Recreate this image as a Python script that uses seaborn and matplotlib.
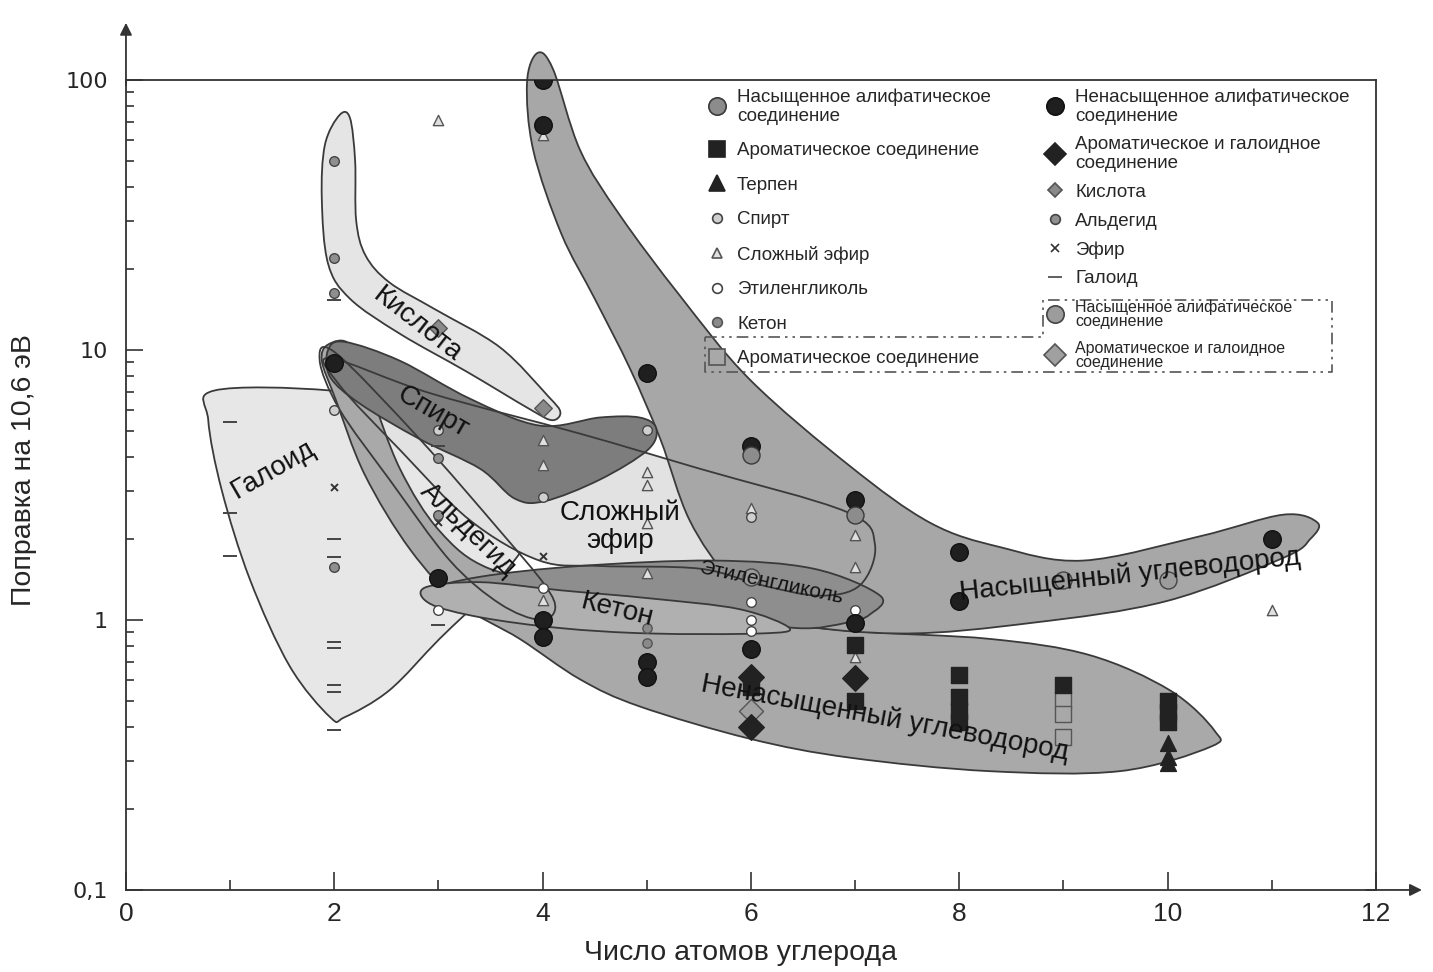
import numpy as np
import matplotlib
matplotlib.use("Agg")
import matplotlib.pyplot as plt
from matplotlib.path import Path
from matplotlib.patches import PathPatch
from matplotlib.lines import Line2D
import seaborn as sns

# ---- point data: carbon number / correction factor ----
sat_x = [6, 7]
sat_y = [4.1, 2.45]
unsat_x = [2, 3, 4, 4, 4, 4, 5, 5, 5, 6, 6, 7, 7, 8, 8, 11]
unsat_y = [8.95, 1.43, 100, 68, 1.0, 0.865, 8.2, 0.70, 0.615, 4.4, 0.78, 2.78, 0.975, 1.79, 1.18, 2.0]
arom_x = [6, 7, 7, 8, 8, 8, 8, 9, 10, 10, 10]
arom_y = [0.565, 0.81, 0.50, 0.626, 0.52, 0.46, 0.42, 0.575, 0.50, 0.456, 0.42]
aromhal_x = [6, 6, 7]
aromhal_y = [0.615, 0.40, 0.61]
terpen_x = [10, 10, 10]
terpen_y = [0.35, 0.31, 0.295]
spirt_x = [2, 3, 4, 5, 6]
spirt_y = [6.0, 5.05, 2.85, 5.05, 2.4]
ester_x = [3, 4, 4, 4, 4, 5, 5, 5, 5, 6, 7, 7, 7, 11]
ester_y = [71, 62.5, 4.64, 3.75, 1.19, 3.53, 3.16, 2.29, 1.49, 2.6, 2.06, 1.57, 0.73, 1.09]
glycol_x = [3, 4, 6, 6, 6, 7]
glycol_y = [1.09, 1.31, 1.17, 1.0, 0.91, 1.09]
keton_x = [5, 5]
keton_y = [0.93, 0.82]
acid_x = [3, 4]
acid_y = [12.1, 6.1]
aldehyde_x = [2, 2, 2, 2, 3, 3]
aldehyde_y = [50, 22, 16.3, 1.57, 3.98, 2.45]
ether_x = [2, 3, 4]
ether_y = [3.1, 2.3, 1.73]
haloid_x = [1, 1, 1, 2, 2, 2, 2, 2, 2, 2, 2, 3, 3]
haloid_y = [5.4, 2.5, 1.72, 15.3, 2.0, 1.71, 0.83, 0.79, 0.575, 0.54, 0.39, 4.4, 0.96]
# second (framed) group
sat2_x = [6, 9, 10]
sat2_y = [1.44, 1.41, 1.41]
arom2_x = [9, 9, 9]
arom2_y = [0.505, 0.45, 0.37]
aromhal2_x = [6]
aromhal2_y = [0.46]

# ---- region outlines: (carbon number, log10 of correction) ----
haloid_zone = [(0.85, 0.85), (1.96, 0.85), (3.01, 0.78), (3.78, 0.67), (4.12, 0.59), (4.12, 0.46),
               (3.88, 0.30), (3.49, 0.11), (3.01, -0.07), (2.53, -0.26), (2.10, -0.36), (1.96, -0.36),
               (1.57, -0.17), (1.19, 0.15), (0.92, 0.48), (0.79, 0.74)]
acid_zone = [(2.05, 1.87), (2.15, 1.86), (2.20, 1.70), (2.21, 1.48), (2.30, 1.35), (2.53, 1.25),
             (2.97, 1.15), (3.59, 1.01), (4.05, 0.83), (4.17, 0.77), (4.09, 0.74), (3.88, 0.78),
             (3.27, 0.92), (2.63, 1.06), (2.15, 1.19), (1.94, 1.32), (1.88, 1.56), (1.91, 1.76)]
ester_zone = [(1.96, 0.97), (2.92, 0.84), (4.36, 0.69), (5.51, 0.56), (6.92, 0.40), (7.19, 0.28),
              (7.05, 0.13), (6.66, 0.09), (6.09, 0.13), (5.51, 0.19), (4.55, 0.20), (3.97, 0.22),
              (3.30, 0.37), (2.63, 0.63), (2.05, 0.87)]
unsat_zone = [(1.94, 1.02), (2.15, 1.02), (2.34, 0.85), (2.63, 0.56), (3.01, 0.33), (3.49, 0.19),
              (4.36, 0.12), (5.51, 0.02), (6.95, -0.04), (8.29, -0.07), (9.25, -0.13), (10.02, -0.26),
              (10.45, -0.41), (10.41, -0.47), (9.54, -0.56), (8.29, -0.56), (6.95, -0.51), (5.99, -0.44),
              (4.93, -0.32), (4.36, -0.22), (3.78, -0.07), (3.21, 0.06), (2.73, 0.26), (2.29, 0.54),
              (2.01, 0.82), (1.88, 0.96)]
sat_zone = [(3.95, 2.10), (4.10, 2.04), (4.36, 1.74), (4.74, 1.50), (5.32, 1.20), (5.99, 0.89),
            (6.95, 0.57), (7.72, 0.36), (8.39, 0.27), (9.19, 0.22), (10.31, 0.31), (11.11, 0.39),
            (11.44, 0.36), (11.37, 0.30), (11.11, 0.23), (9.99, 0.07), (8.71, -0.01), (7.43, -0.05),
            (6.28, 0.0), (5.80, 0.15), (5.41, 0.37), (5.13, 0.67), (4.84, 0.93), (4.50, 1.19),
            (4.18, 1.43), (3.91, 1.74), (3.85, 1.99)]
spirt_zone = [(1.94, 1.0), (2.10, 1.03), (2.63, 0.96), (3.30, 0.82), (3.97, 0.72), (4.55, 0.75),
              (4.93, 0.75), (5.09, 0.71), (5.01, 0.63), (4.55, 0.52), (4.02, 0.44), (3.73, 0.45),
              (3.40, 0.56), (2.82, 0.67), (2.25, 0.80), (1.96, 0.90)]
glycol_zone = [(2.92, 0.11), (3.40, 0.16), (4.36, 0.20), (5.64, 0.22), (6.60, 0.19), (7.24, 0.09),
               (7.14, 0.02), (6.92, -0.01), (6.44, -0.03), (5.51, 0.02), (4.74, 0.07), (3.97, 0.08),
               (3.21, 0.07)]
keton_zone = [(2.87, 0.12), (3.40, 0.14), (4.17, 0.11), (5.03, 0.08), (5.89, 0.04), (6.37, -0.03),
              (6.09, -0.05), (5.03, -0.05), (4.17, -0.03), (3.40, 0.01), (2.92, 0.06)]
aldehyde_zone = [(1.86, 0.96), (2.01, 0.99), (2.82, 0.67), (3.59, 0.33), (4.02, 0.13), (4.12, 0.04),
                 (3.97, 0.0), (3.59, 0.06), (3.11, 0.22), (2.53, 0.52), (2.05, 0.78)]

sns.set_theme(style="white")
plt.rcParams["font.family"] = ["Liberation Sans", "DejaVu Sans"]
NARROW = ["Liberation Sans Narrow", "Liberation Sans"]

fig, ax = plt.subplots(figsize=(14.33, 9.72), dpi=100)
fig.subplots_adjust(left=0.0879, right=0.9602, bottom=0.0844, top=0.9177)
ax.set_yscale("log")
ax.set_xlim(0, 12)
ax.set_ylim(0.1, 100)

EDGE = "#3a3a3a"


def zone(pts, face, z, edge=EDGE, lw=1.3):
    # closed smooth outline (Catmull-Rom as cubic Bezier) in (x, log y) space
    P = np.array(pts, dtype=float)
    n = len(P)
    verts = [P[0]]
    codes = [Path.MOVETO]
    for i in range(n):
        p0, p1, p2, p3 = P[i - 1], P[i], P[(i + 1) % n], P[(i + 2) % n]
        verts += [p1 + (p2 - p0) / 6, p2 - (p3 - p1) / 6, p2]
        codes += [Path.CURVE4] * 3
    verts = np.array(verts)
    verts[:, 1] = 10 ** verts[:, 1]
    ax.add_patch(PathPatch(Path(verts, codes), facecolor=face, edgecolor=edge,
                           lw=lw, zorder=z, clip_on=False))


zone(haloid_zone, "#e7e7e7", 1.0)
zone(acid_zone, "#e5e5e5", 1.1)
zone(ester_zone, "#e2e2e2", 1.2, edge="none")
zone(unsat_zone, "#a9a9a9", 1.5)
zone(sat_zone, "#a7a7a7", 1.6)
zone(spirt_zone, "#7d7d7d", 1.7)
zone(glycol_zone, "#8e8e8e", 1.8)
zone(keton_zone, "#b0b0b0", 1.9)
zone(ester_zone, "none", 2.0)
zone(aldehyde_zone, "none", 2.0)

# ---- markers ----
styles = [
    # x, y, marker, size, face, edge, zorder
    (ester_x, ester_y, "^", 55, "#e0e0e0", "#555555", 3.0),
    (haloid_x, haloid_y, "_", 90, "#444444", "#444444", 3.0),
    (ether_x, ether_y, "x", 25, "#333333", "#333333", 3.0),
    (spirt_x, spirt_y, "o", 48, "#cfcfcf", "#444444", 3.1),
    (glycol_x, glycol_y, "o", 48, "white", "#444444", 3.1),
    (keton_x, keton_y, "o", 45, "#8a8a8a", "#555555", 3.1),
    (aldehyde_x, aldehyde_y, "o", 48, "#8f8f8f", "#444444", 3.1),
    (acid_x, acid_y, "D", 80, "#8a8a8a", "#555555", 3.1),
    (sat2_x, sat2_y, "o", 150, "#9c9c9c", "#444444", 3.2),
    (arom2_x, arom2_y, "s", 130, "#a8a8a8", "#555555", 3.2),
    (aromhal2_x, aromhal2_y, "D", 150, "#a0a0a0", "#555555", 3.3),
    (arom_x, arom_y, "s", 130, "#222222", "#222222", 3.2),
    (terpen_x, terpen_y, "^", 130, "#222222", "#222222", 3.2),
    (aromhal_x, aromhal_y, "D", 170, "#222222", "#222222", 3.4),
    (unsat_x, unsat_y, "o", 160, "#1f1f1f", "#111111", 3.5),
    (sat_x, sat_y, "o", 150, "#8c8c8c", "#3a3a3a", 3.6),
]
for xs, ys, mk, s, fc, ec, z in styles:
    if mk in ("_", "x"):
        sns.scatterplot(x=xs, y=ys, ax=ax, marker=mk, s=s, color=fc, linewidth=1.4, zorder=z, legend=False)
    else:
        sns.scatterplot(x=xs, y=ys, ax=ax, marker=mk, s=s, color=fc, edgecolor=ec,
                        linewidth=1.0, zorder=z, legend=False)

# ---- zone labels ----
lab = dict(fontsize=20, color="#111111", ha="center", va="center", zorder=4)
ax.text(2.80, 12.4, "Кислота", rotation=-38, **lab)
ax.text(2.95, 5.9, "Спирт", rotation=-30, **lab)
ax.text(1.41, 3.6, "Галоид", rotation=30, **lab)
ax.text(3.28, 2.15, "Альдегид", rotation=-44, **lab)
ax.text(4.74, 2.21, "Сложный\nэфир", rotation=0, linespacing=1.1, **lab)
ax.text(4.72, 1.09, "Кетон", rotation=-14, **lab)
ax.text(9.64, 1.47, "Насыщенный углеводород", rotation=6, **lab)
ax.text(7.29, 0.434, "Ненасыщенный углеводород", rotation=-10.6, **lab)
ax.text(6.20, 1.37, "Этиленгликоль", rotation=-12, fontsize=15, color="#111111",
        ha="center", va="center", zorder=4)

# ---- axes styling ----
for side in ["left", "bottom", "top", "right"]:
    ax.spines[side].set_color("#333333")
    ax.spines[side].set_linewidth(1.3)

ax.set_xticks(range(0, 13, 2))
ax.set_xticks(range(1, 12, 2), minor=True)
ax.set_xticklabels([str(v) for v in range(0, 13, 2)])
ax.set_yticks([0.1, 1, 10, 100])
ax.set_yticklabels(["0,1", "1", "10", "100"])
ax.yaxis.set_minor_locator(matplotlib.ticker.LogLocator(base=10, subs=np.arange(2, 10)))
ax.yaxis.set_minor_formatter(matplotlib.ticker.NullFormatter())

ax.tick_params(axis="x", which="major", direction="in", length=13, width=1.2, color="#333333",
               bottom=True, top=False, pad=9)
ax.tick_params(axis="x", which="minor", direction="in", length=7, width=1.2, color="#333333",
               bottom=True, top=False)
ax.tick_params(axis="y", which="major", direction="in", length=12, width=1.2, color="#333333",
               left=True, right=False, pad=13)
ax.tick_params(axis="y", which="minor", direction="in", length=6, width=1.2, color="#333333",
               left=True, right=False)
for t in ax.get_xticklabels():
    t.set_fontfamily(NARROW)
    t.set_fontsize(19)
for t in ax.get_yticklabels():
    t.set_fontfamily(["DejaVu Sans"])
    t.set_fontsize(16)

ax.set_xlabel("Число атомов углерода", fontsize=20.5, family=NARROW)
ax.set_ylabel("Поправка на 10,6 эВ", fontsize=20.5, family=NARROW)
ax.xaxis.set_label_coords(0.492, -0.062)
ax.yaxis.set_label_coords(-0.071, 0.518)

arrow = dict(arrowstyle="-|>", color="#333333", lw=1.3, mutation_scale=18)
ax.annotate("", xy=(0, 1.074), xytext=(0, 0.99), xycoords="axes fraction", arrowprops=arrow,
            annotation_clip=False)
ax.annotate("", xy=(1.039, 0), xytext=(0.99, 0), xycoords="axes fraction", arrowprops=arrow,
            annotation_clip=False)

# ---- legends ----
def h(mk, ms, fc, ec):
    return Line2D([], [], marker=mk, linestyle="none", markersize=ms, markerfacecolor=fc,
                  markeredgecolor=ec, color=ec, markeredgewidth=1.2)


left_handles = [h("o", 12.5, "#8c8c8c", "#3a3a3a"), h("s", 11.5, "#222222", "#222222"),
                h("^", 11.5, "#222222", "#222222"), h("o", 7, "#cfcfcf", "#444444"),
                h("^", 7.5, "#e0e0e0", "#555555"), h("o", 7, "white", "#444444"),
                h("o", 7, "#8a8a8a", "#555555"), h("s", 11.5, "#a8a8a8", "#555555")]
left_labels = ["Насыщенное алифатическое\nсоединение", "Ароматическое соединение", "Терпен", "Спирт",
               "Сложный эфир", "Этиленгликоль", "Кетон", "Ароматическое соединение"]
right_handles = [h("o", 12.5, "#1f1f1f", "#111111"), h("D", 11, "#222222", "#222222"),
                 h("D", 7.5, "#8a8a8a", "#555555"), h("o", 7, "#8f8f8f", "#444444"),
                 h("x", 5.5, "#333333", "#333333"), h("_", 9.5, "#444444", "#444444"),
                 h("o", 12.5, "#9c9c9c", "#444444"), h("D", 11, "#a0a0a0", "#555555")]
right_labels = ["Ненасыщенное алифатическое\nсоединение", "Ароматическое и галоидное\nсоединение",
                "Кислота", "Альдегид", "Эфир", "Галоид", "Насыщенное алифатическое\nсоединение",
                "Ароматическое и галоидное\nсоединение"]

leg_kw = dict(loc="upper left", frameon=False, fontsize=13.5, handlelength=1.0, handletextpad=0.55,
              borderpad=0, borderaxespad=0)
leg1 = ax.legend(left_handles, left_labels, bbox_to_anchor=(0.4656, 0.99), labelspacing=0.93, **leg_kw)
ax.add_artist(leg1)
leg2 = ax.legend(right_handles, right_labels, bbox_to_anchor=(0.736, 0.99), labelspacing=0.62, **leg_kw)
for lg in (leg1, leg2):
    for t in lg.get_texts():
        t.set_linespacing(1.15)
    lg.set_zorder(5)
for t in leg2.get_texts()[6:]:
    t.set_fontsize(11.5)
    t.set_linespacing(0.95)

bx = [0.4632, 0.7336, 0.7336, 0.9648, 0.9648, 0.4632, 0.4632]
by = [0.6827, 0.6827, 0.7284, 0.7284, 0.6395, 0.6395, 0.6827]
ax.plot(bx, by, transform=ax.transAxes, clip_on=False, color="#555555", lw=1.2,
        linestyle=(0, (7, 3, 1.5, 3, 1.5, 3)), zorder=5)

fig.savefig("out.png", dpi=100)
